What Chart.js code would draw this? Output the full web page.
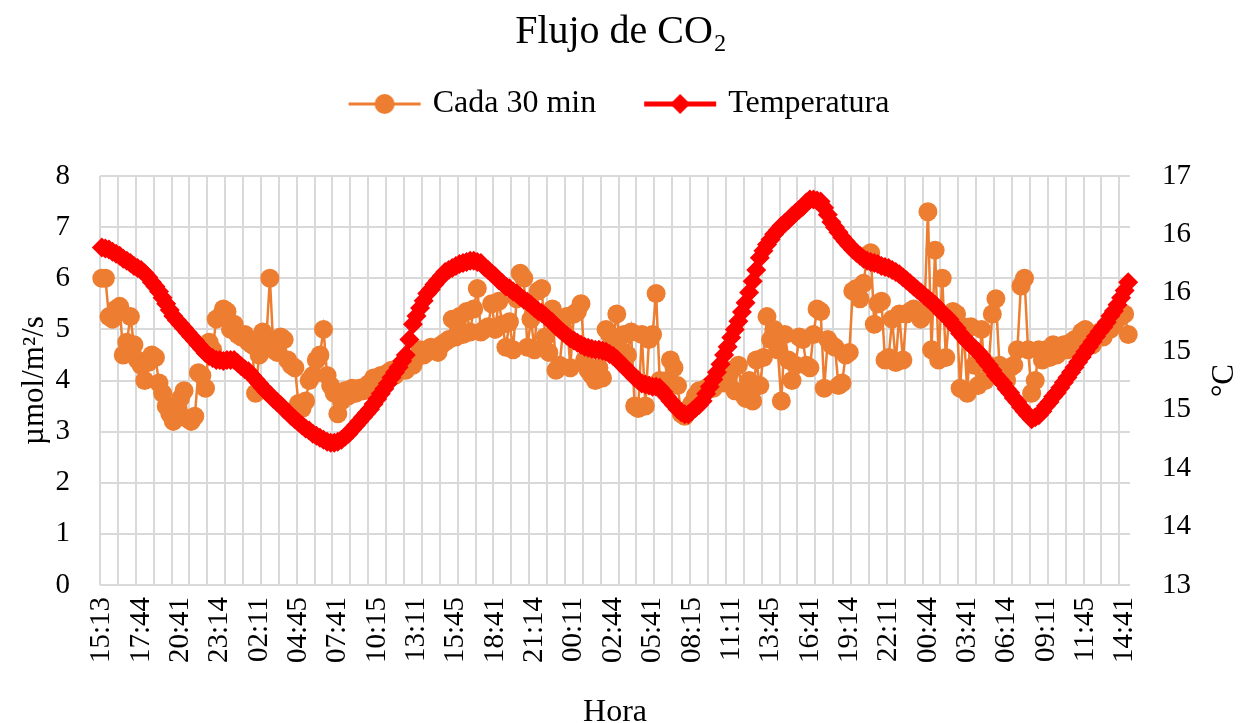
<!DOCTYPE html>
<html lang="es">
<head>
    <meta charset="UTF-8">
    <title>Flujo de CO2</title>
    <script src="https://cdn.jsdelivr.net/npm/chart.js"></script>
    <style>
        body { margin: 0; background: #fff; }
        canvas { display: block; }
    </style>
</head>
<body>
    <canvas id="fluxChart" width="1242" height="723"></canvas>

    <script>
        // Hour labels shown on the x axis (one every 11 readings)
        const tickLabels = ['15:13', '17:44', '20:41', '23:14', '02:11', '04:45', '07:41', '10:15', '13:11',
            '15:45', '18:41', '21:14', '00:11', '02:44', '05:41', '08:15', '11:11', '13:45', '16:41',
            '19:14', '22:11', '00:44', '03:41', '06:14', '09:11', '11:45', '14:41'];
        const labelEvery = 11;
        const readingCount = 288;

        // Right axis (°C) tick labels, as printed on the original
        const rightTickLabels = ['13', '14', '14', '15', '15', '16', '16', '17'];

        // CO2 flux, µmol/m2/s
        const co2Flux = [
            6.0, 6.0, 5.25, 5.2, 5.4, 5.45, 4.5, 4.75, 5.25, 4.7, 4.4, 4.3,
            4.0, 4.35, 4.5, 4.45, 3.95, 3.75, 3.5, 3.35, 3.2, 3.4, 3.65, 3.8,
            3.25, 3.2, 3.3, 4.15, 4.1, 3.85, 4.75, 4.6, 5.2, 5.25, 5.4, 5.35,
            5.0, 5.1, 4.9, 4.85, 4.9, 4.75, 4.7, 3.75, 4.5, 4.95, 4.8, 6.0,
            4.6, 4.55, 4.85, 4.8, 4.4, 4.3, 4.25, 3.55, 3.45, 3.6, 4.0, 4.1,
            4.4, 4.5, 5.0, 4.1, 3.9, 3.75, 3.35, 3.6, 3.8, 3.7, 3.85, 3.75,
            3.85, 3.8, 3.9, 3.95, 4.05, 4.0, 4.1, 4.05, 4.15, 4.2, 4.1, 4.25,
            4.3, 4.2, 4.35, 4.3, 4.45, 4.6, 4.5, 4.55, 4.65, 4.6, 4.55, 4.7,
            4.75, 4.8, 5.2, 4.85, 5.25, 4.9, 5.35, 4.95, 5.4, 5.8, 4.95, 5.0,
            5.05, 5.5, 5.0, 5.55, 5.1, 4.65, 5.15, 4.6, 5.6, 6.1, 6.0, 4.65,
            5.2, 4.6, 5.75, 5.8, 4.85, 4.55, 5.4, 4.2, 4.3, 5.0, 5.25, 4.25,
            5.3, 5.35, 5.5, 4.4, 4.2, 4.1, 4.0, 4.25, 4.05, 5.0, 4.9, 4.85,
            5.3, 4.6, 4.9, 4.5, 4.95, 3.5, 3.45, 4.9, 3.5, 4.8, 4.9, 5.7,
            4.0, 3.9, 4.0, 4.4, 4.25, 3.9, 3.35, 3.3, 3.45, 3.55, 3.7, 3.8,
            3.75, 3.85, 3.9, 3.85, 3.95, 4.0, 3.95, 4.1, 4.2, 3.8, 4.3, 3.75,
            3.65, 4.0, 3.6, 4.4, 3.9, 4.45, 5.25, 4.8, 5.0, 4.6, 3.6, 4.9,
            4.4, 4.0, 4.3, 4.85, 4.8, 4.3, 4.25, 4.9, 5.4, 5.35, 3.85, 4.8,
            4.7, 4.65, 3.9, 3.95, 4.5, 4.55, 5.75, 5.8, 5.6, 5.9, 6.45, 6.5,
            5.1, 5.5, 5.55, 4.4, 4.45, 5.2, 4.35, 5.3, 4.4, 5.3, 5.35, 5.4,
            5.35, 5.2, 5.3, 7.3, 4.6, 6.55, 4.4, 6.0, 4.45, 5.3, 5.35, 5.3,
            3.85, 5.05, 3.75, 5.05, 4.3, 3.9, 5.0, 4.0, 4.3, 5.3, 5.6, 4.3,
            4.2, 4.0, 4.25, 4.3, 4.6, 5.85, 6.0, 4.6, 3.75, 4.0, 4.6, 4.4,
            4.6, 4.45, 4.7, 4.5, 4.65, 4.7, 4.6, 4.75, 4.8, 4.75, 4.95, 5.0,
            4.85, 4.7, 4.9, 4.95, 4.85, 5.05, 5.0, 5.1, 5.2, 5.25, 5.3, 4.9
        ];

        // Temperature, °C
        const temperature = [
            16.30, 16.29, 16.28, 16.26, 16.24, 16.22, 16.19, 16.17, 16.15, 16.12, 16.10, 16.08,
            16.05, 16.01, 15.96, 15.92, 15.87, 15.81, 15.75, 15.69, 15.63, 15.59, 15.55, 15.51,
            15.47, 15.43, 15.39, 15.35, 15.31, 15.27, 15.24, 15.22, 15.20, 15.20, 15.19, 15.20,
            15.20, 15.20, 15.17, 15.14, 15.11, 15.09, 15.05, 15.01, 14.97, 14.93, 14.89, 14.86,
            14.82, 14.79, 14.76, 14.72, 14.69, 14.65, 14.62, 14.59, 14.56, 14.53, 14.51, 14.48,
            14.46, 14.44, 14.42, 14.40, 14.39, 14.39, 14.40, 14.42, 14.45, 14.48, 14.52, 14.56,
            14.60, 14.64, 14.68, 14.72, 14.77, 14.82, 14.87, 14.92, 14.97, 15.03, 15.08, 15.13,
            15.19, 15.25, 15.40, 15.55, 15.63, 15.71, 15.78, 15.85, 15.89, 15.94, 15.98, 16.02,
            16.06, 16.08, 16.10, 16.12, 16.14, 16.15, 16.16, 16.17, 16.17, 16.16, 16.15, 16.11,
            16.08, 16.05, 16.02, 15.98, 15.95, 15.92, 15.90, 15.87, 15.85, 15.82, 15.79, 15.77,
            15.74, 15.71, 15.68, 15.66, 15.63, 15.60, 15.57, 15.53, 15.50, 15.47, 15.44, 15.41,
            15.39, 15.37, 15.35, 15.33, 15.32, 15.31, 15.30, 15.30, 15.29, 15.28, 15.26, 15.24,
            15.21, 15.17, 15.14, 15.10, 15.07, 15.03, 15.00, 14.97, 14.96, 14.95, 14.94, 14.94,
            14.93, 14.89, 14.84, 14.80, 14.76, 14.72, 14.69, 14.67, 14.67, 14.70, 14.73, 14.76,
            14.80, 14.87, 14.94, 15.01, 15.08, 15.16, 15.25, 15.33, 15.42, 15.50, 15.58, 15.67,
            15.76, 15.86, 15.97, 16.08, 16.20, 16.27, 16.33, 16.38, 16.43, 16.47, 16.51, 16.54,
            16.57, 16.61, 16.64, 16.67, 16.70, 16.74, 16.77, 16.77, 16.76, 16.75, 16.69, 16.62,
            16.55, 16.50, 16.45, 16.40, 16.36, 16.32, 16.28, 16.25, 16.22, 16.19, 16.17, 16.16,
            16.15, 16.14, 16.12, 16.11, 16.10, 16.08, 16.06, 16.04, 16.01, 15.98, 15.95, 15.92,
            15.89, 15.86, 15.83, 15.80, 15.77, 15.74, 15.70, 15.66, 15.63, 15.60, 15.55, 15.51,
            15.46, 15.42, 15.38, 15.35, 15.31, 15.28, 15.24, 15.19, 15.15, 15.10, 15.05, 15.01,
            14.97, 14.92, 14.88, 14.83, 14.79, 14.74, 14.70, 14.66, 14.62, 14.64, 14.66, 14.70,
            14.75, 14.79, 14.84, 14.88, 14.93, 14.98, 15.03, 15.08, 15.13, 15.18, 15.23, 15.28,
            15.33, 15.38, 15.43, 15.48, 15.52, 15.57, 15.63, 15.68, 15.74, 15.81, 15.88, 15.96
        ];

        const serif = '"Liberation Serif", "Times New Roman", serif';
        const orange = '#ED7D31';
        const red = '#FF0000';
        const gridGrey = '#d9d9d9';

        // one category per reading, only every 11th gets a printed hour
        const categories = [];
        for (let i = 0; i < readingCount; i++) {
            categories.push(i % labelEvery === 0 ? (tickLabels[i / labelEvery] || '') : '');
        }

        // legend swatches: line with the marker in the middle, like Excel
        function legendIcon(color, lineWidth, drawMarker) {
            const c = document.createElement('canvas');
            c.width = 80;
            c.height = 24;
            const g = c.getContext('2d');
            g.strokeStyle = color;
            g.lineWidth = lineWidth;
            g.beginPath();
            g.moveTo(4, 12);
            g.lineTo(76, 12);
            g.stroke();
            g.fillStyle = color;
            drawMarker(g);
            return c;
        }
        const icons = [
            legendIcon(orange, 3, g => { g.beginPath(); g.arc(40, 12, 10, 0, Math.PI * 2); g.fill(); }),
            legendIcon(red, 5, g => {
                g.beginPath();
                g.moveTo(40, 2); g.lineTo(50, 12); g.lineTo(40, 22); g.lineTo(30, 12);
                g.closePath();
                g.fill();
            })
        ];

        // °C reads bottom-to-top on the original, so draw it ourselves
        const rightAxisTitle = {
            id: 'rightAxisTitle',
            afterDraw(chart) {
                const { ctx, chartArea } = chart;
                ctx.save();
                ctx.translate(1225, (chartArea.top + chartArea.bottom) / 2);
                ctx.rotate(-Math.PI / 2);
                ctx.font = '31px ' + serif;
                ctx.fillStyle = '#000';
                ctx.textAlign = 'center';
                ctx.textBaseline = 'middle';
                ctx.fillText('°C', 0, 0);
                ctx.restore();
            }
        };

        new Chart(document.getElementById('fluxChart'), {
            type: 'line',
            data: {
                labels: categories,
                datasets: [{
                    label: 'Cada 30 min',
                    data: co2Flux,
                    yAxisID: 'y',
                    order: 1,
                    borderColor: orange,
                    backgroundColor: orange,
                    borderWidth: 2.5,
                    pointStyle: 'circle',
                    pointRadius: 9.5,
                    pointBackgroundColor: orange,
                    pointBorderColor: orange,
                    pointBorderWidth: 0,
                    tension: 0
                }, {
                    label: 'Temperatura',
                    data: temperature,
                    yAxisID: 'y1',
                    order: 0,
                    borderColor: red,
                    backgroundColor: red,
                    borderWidth: 4,
                    pointStyle: 'rectRot',
                    pointRadius: 10,
                    pointBackgroundColor: red,
                    pointBorderColor: red,
                    pointBorderWidth: 0,
                    tension: 0
                }]
            },
            options: {
                responsive: false,
                animation: false,
                layout: { padding: 0 },
                plugins: {
                    title: {
                        display: true,
                        text: 'Flujo de CO₂',
                        color: '#000',
                        font: { family: serif, size: 40, weight: 'normal', lineHeight: 1 },
                        padding: { top: 12, bottom: -16 }
                    },
                    legend: {
                        position: 'top',
                        labels: {
                            usePointStyle: true,
                            pointStyleWidth: 64,
                            padding: 52,
                            color: '#000',
                            font: { family: serif, size: 32 },
                            generateLabels(chart) {
                                const items = Chart.defaults.plugins.legend.labels.generateLabels(chart);
                                items.sort((a, b) => a.datasetIndex - b.datasetIndex);
                                items.forEach(item => { item.pointStyle = icons[item.datasetIndex]; });
                                return items;
                            }
                        }
                    },
                    // empty spacer between legend and plot
                    subtitle: {
                        display: true,
                        text: ' ',
                        weight: 500,
                        font: { size: 10, lineHeight: 1 },
                        padding: { top: 36, bottom: 0 }
                    },
                    tooltip: { enabled: false }
                },
                scales: {
                    x: {
                        offset: true,
                        border: { display: false },
                        grid: {
                            offset: true,
                            drawTicks: false,
                            lineWidth: 2,
                            color: ctx => ctx.index % 5 === 0 ? gridGrey : 'rgba(0,0,0,0)'
                        },
                        ticks: {
                            autoSkip: false,
                            minRotation: 90,
                            maxRotation: 90,
                            padding: 12,
                            color: '#000',
                            font: { family: serif, size: 29 },
                            callback: (value, index) => categories[index]
                        },
                        title: {
                            display: true,
                            text: 'Hora',
                            color: '#000',
                            font: { family: serif, size: 32, lineHeight: 1 },
                            padding: { top: 0, bottom: -6 }
                        },
                        afterFit: scale => { scale.height = 138; }
                    },
                    y: {
                        position: 'left',
                        min: 0,
                        max: 8,
                        border: { display: false },
                        grid: { color: gridGrey, lineWidth: 2, drawTicks: false },
                        ticks: { stepSize: 1, padding: 30, color: '#000', font: { family: serif, size: 29 } },
                        title: {
                            display: true,
                            text: 'µmol/m²/s',
                            color: '#000',
                            font: { family: serif, size: 31, lineHeight: 1.2 },
                            padding: { top: 16, bottom: 0 }
                        },
                        afterFit: scale => { scale.width = 100; }
                    },
                    y1: {
                        position: 'right',
                        min: 13,
                        max: 17,
                        border: { display: false },
                        grid: { display: false, drawTicks: false },
                        ticks: {
                            padding: 32,
                            color: '#000',
                            font: { family: serif, size: 29 },
                            callback: (value, index) => rightTickLabels[index]
                        },
                        afterBuildTicks: scale => {
                            const step = (17 - 13) / (rightTickLabels.length - 1);
                            scale.ticks = rightTickLabels.map((t, k) => ({ value: 13 + k * step }));
                        },
                        afterFit: scale => { scale.width = 112; }
                    }
                }
            },
            plugins: [rightAxisTitle]
        });
    </script>
</body>
</html>
